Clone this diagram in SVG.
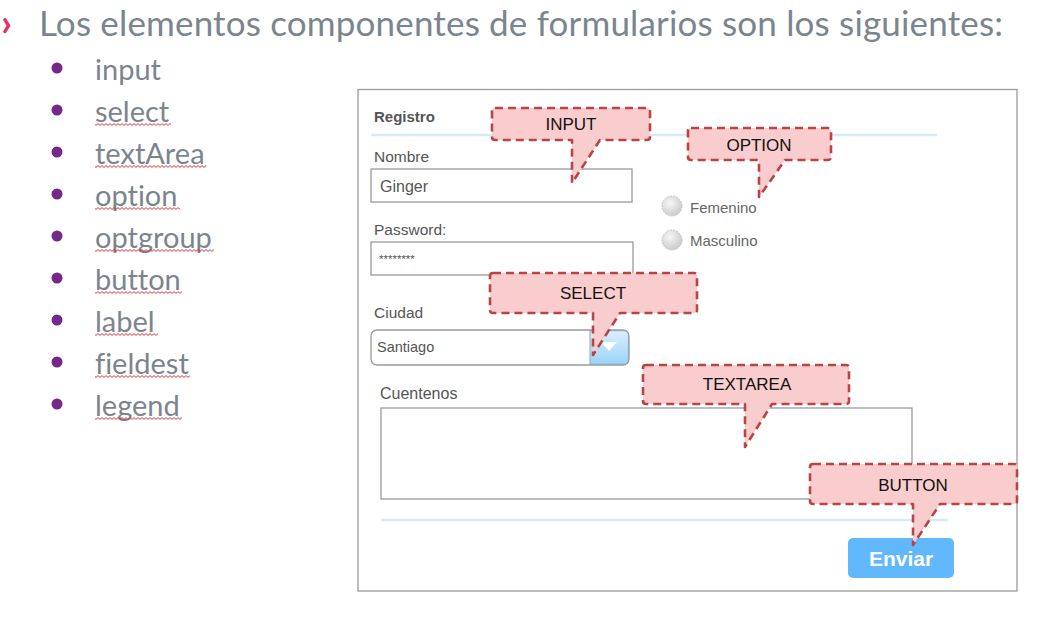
<svg xmlns="http://www.w3.org/2000/svg" width="1046" height="633" viewBox="0 0 1046 633">
<defs>
<style>
.title{font-family:Lato,"Open Sans",sans-serif;font-size:35px;fill:#7b858e}
.item{font-family:Lato,"Open Sans",sans-serif;font-size:29px;fill:#7b858e;font-variant-ligatures:none}
.bul{fill:#74288a}
.lbl{font-family:"Liberation Sans",Arial,sans-serif;font-size:15.5px;fill:#555}
.small{font-family:"Liberation Sans",Arial,sans-serif;font-size:15px;fill:#666}
.box{fill:#fff;stroke:#9a9a9a;stroke-width:1.3}
.sep{stroke:#d4ebfb;stroke-width:2.5}
.call{fill:#f9cdcd;stroke:#b94444;stroke-width:2.6;stroke-dasharray:8 5;stroke-linejoin:round}
.ctext{font-family:"Liberation Sans",Arial,sans-serif;font-size:17px;fill:#111;text-anchor:middle}
.sq{fill:url(#squig)}
</style>
<pattern id="squig" x="0" y="0" width="4" height="3" patternUnits="userSpaceOnUse">
<path d="M0,2.4 L2,0.6 L4,2.4" fill="none" stroke="#e02020" stroke-width="0.9"/>
</pattern>
<radialGradient id="radio" cx="0.4" cy="0.35" r="0.7">
<stop offset="0" stop-color="#f6f6f6"/>
<stop offset="1" stop-color="#c8c8c8"/>
</radialGradient>
<linearGradient id="dd" x1="0" y1="0" x2="0" y2="1">
<stop offset="0" stop-color="#d9effd"/>
<stop offset="1" stop-color="#9bd3f8"/>
</linearGradient>
</defs>

<g id="title">
<text x="1" y="36" style="font-family:Lato,sans-serif;font-size:38px;font-weight:bold;fill:#e0306a">›</text>
<text class="title" x="39" y="36" textLength="964">Los elementos componentes de formularios son los siguientes:</text>
</g>

<g id="list">
<circle class="bul" cx="57" cy="68" r="5.5"/><text class="item" x="95" y="80">input</text>
<circle class="bul" cx="57" cy="110" r="5.5"/><text class="item" x="95" y="122">select</text>
<rect class="sq" x="95" y="123" width="76" height="3"/>
<circle class="bul" cx="57" cy="152" r="5.5"/><text class="item" x="95" y="164">textArea</text>
<rect class="sq" x="95" y="165" width="111" height="3"/>
<circle class="bul" cx="57" cy="194" r="5.5"/><text class="item" x="95" y="206">option</text>
<rect class="sq" x="95" y="207" width="85" height="3"/>
<circle class="bul" cx="57" cy="236" r="5.5"/><text class="item" x="95" y="248">optgroup</text>
<rect class="sq" x="95" y="249" width="119" height="3"/>
<circle class="bul" cx="57" cy="278" r="5.5"/><text class="item" x="95" y="290">button</text>
<rect class="sq" x="95" y="291" width="87" height="3"/>
<circle class="bul" cx="57" cy="320" r="5.5"/><text class="item" x="95" y="332">label</text>
<rect class="sq" x="95" y="333" width="63" height="3"/>
<circle class="bul" cx="57" cy="362" r="5.5"/><text class="item" x="95" y="374">fieldest</text>
<rect class="sq" x="95" y="375" width="95" height="3"/>
<circle class="bul" cx="57" cy="404" r="5.5"/><text class="item" x="95" y="416">legend</text>
<rect class="sq" x="95" y="417" width="87" height="3"/>
</g>

<g id="form">
<rect x="358" y="89.5" width="659" height="501.5" fill="#fff" stroke="#9a9a9a" stroke-width="1.3"/>
<text x="374" y="122" style="font-family:'Liberation Sans',Arial,sans-serif;font-size:15px;font-weight:bold;fill:#555">Registro</text>
<line class="sep" x1="371" y1="135" x2="937" y2="135"/>
<text class="lbl" x="374" y="162">Nombre</text>
<rect class="box" x="371" y="169" width="261" height="33"/>
<text x="380" y="192" style="font-family:'Liberation Sans',Arial,sans-serif;font-size:16px;fill:#555">Ginger</text>
<text class="lbl" x="374" y="235">Password:</text>
<rect class="box" x="371" y="242" width="262" height="33"/>
<text x="379" y="263" style="font-family:'Liberation Sans',Arial,sans-serif;font-size:11.5px;fill:#555">********</text>
<circle cx="672" cy="206" r="10" fill="url(#radio)" stroke="#c4c4c4" stroke-width="1" stroke-dasharray="2 1"/>
<text class="small" x="690" y="213">Femenino</text>
<circle cx="672" cy="240" r="10" fill="url(#radio)" stroke="#c4c4c4" stroke-width="1" stroke-dasharray="2 1"/>
<text class="small" x="690" y="246">Masculino</text>
<text class="lbl" x="374" y="318">Ciudad</text>
<rect x="371" y="330" width="258" height="35" rx="6" fill="#fff" stroke="#9a9a9a" stroke-width="1.3"/>
<path d="M590,330.7 H623 Q628.4,330.7 628.4,336 V359 Q628.4,364.3 623,364.3 H590 Z" fill="url(#dd)" stroke="#8aa8bd" stroke-width="1"/>
<path d="M601,342 H617 L609,351 Z" fill="#fff"/>
<text x="377" y="352" style="font-family:'Liberation Sans',Arial,sans-serif;font-size:14.5px;fill:#555">Santiago</text>
<text x="380" y="399" style="font-family:'Liberation Sans',Arial,sans-serif;font-size:16px;fill:#555">Cuentenos</text>
<rect class="box" x="381" y="408" width="531" height="91"/>
<line class="sep" x1="381" y1="520" x2="948" y2="520"/>
<rect x="848" y="538" width="106" height="40" rx="5" fill="#62b8fc"/>
<text x="901" y="566" text-anchor="middle" style="font-family:'Liberation Sans',Arial,sans-serif;font-size:21px;font-weight:bold;fill:#fff">Enviar</text>
</g>

<g id="callout-input">
<path class="call" d="M495,108 H647 Q650,108 650,111 V137 Q650,140 647,140 H600 L572,183 V140 H495 Q492,140 492,137 V111 Q492,108 495,108 Z"/>
<text class="ctext" x="571" y="130">INPUT</text>
</g>
<g id="callout-option">
<path class="call" d="M691,128 H828 Q831,128 831,131 V157 Q831,160 828,160 H785 L759,197 V160 H691 Q688,160 688,157 V131 Q688,128 691,128 Z"/>
<text class="ctext" x="759" y="151">OPTION</text>
</g>
<g id="callout-select">
<path class="call" d="M493,273 H694 Q697,273 697,276 V310 Q697,313 694,313 H620 L593,355 V313 H493 Q490,313 490,310 V276 Q490,273 493,273 Z"/>
<text class="ctext" x="593" y="299">SELECT</text>
</g>
<g id="callout-textarea">
<path class="call" d="M646,365 H846 Q849,365 849,368 V401 Q849,404 846,404 H772 L745,447 V404 H646 Q643,404 643,401 V368 Q643,365 646,365 Z"/>
<text class="ctext" x="747" y="390">TEXTAREA</text>
</g>
<g id="callout-button">
<path class="call" d="M813,464 H1014 Q1017,464 1017,467 V501 Q1017,504 1014,504 H940 L913,545 V504 H813 Q810,504 810,501 V467 Q810,464 813,464 Z"/>
<text class="ctext" x="913" y="491">BUTTON</text>
</g>
</svg>
